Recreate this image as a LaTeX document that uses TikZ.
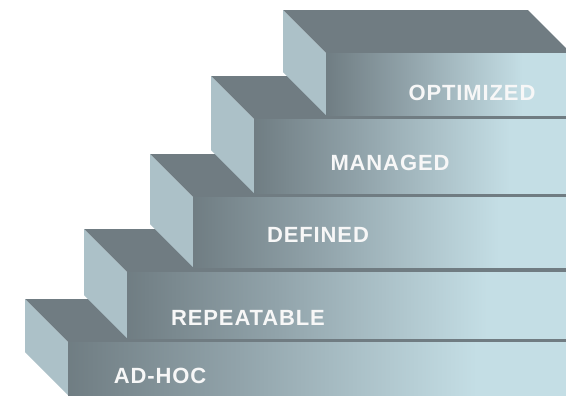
\documentclass[tikz,border=0pt]{standalone}
\usepackage{fontspec}
\setmainfont{Liberation Sans}
\definecolor{topc}{RGB}{112,124,130}
\definecolor{sidec}{RGB}{172,193,200}
\definecolor{frdk}{RGB}{94,105,110}
\definecolor{frmd}{RGB}{145,163,170}
\definecolor{frlt}{RGB}{196,222,229}
\pgfdeclarehorizontalshading{frontshade}{100bp}{color(0bp)=(frdk); color(16bp)=(frdk); color(42bp)=(frmd); color(66bp)=(frlt); color(100bp)=(frlt)}
\tikzset{
  lbl/.style={text=white!94!gray, font=\bfseries\fontsize{22}{22}\selectfont\addfontfeatures{LetterSpace=4}, inner sep=0pt, anchor=center}
}
\begin{document}
\begin{tikzpicture}[x=1pt,y=-1pt]
\fill[white] (0,0) rectangle (566,397);
\useasboundingbox (0,0) rectangle (566,397);
\begin{scope}
\clip (0,0) rectangle (566,397);
\foreach \fx/\ft/\fb/\rr in {68/342/395/620, 127/272/338/620, 193/197/267/620, 254/119/193/620, 326/53/115/528}{
  \fill[topc] (\fx-43,\ft-43) -- (\rr,\ft-43) -- (\rr+43,\ft) -- (\fx,\ft) -- cycle;
  \fill[sidec] (\fx-43,\ft-43) -- (\fx,\ft) -- (\fx,\fb) -- (\fx-43,\fb-43) -- cycle;
  \shade[shading=frontshade] (\fx,\ft) rectangle (566,\fb);
}
\end{scope}
\node[lbl] (adhoc) at (160,376) {AD-HOC};
\node[lbl] (repeatable) at (248,318) {REPEATABLE};
\node[lbl] (defined) at (318,235) {DEFINED};
\node[lbl] (managed) at (390,163) {MANAGED};
\node[lbl] (optimized) at (472,93) {OPTIMIZED};
\end{tikzpicture}
\end{document}
